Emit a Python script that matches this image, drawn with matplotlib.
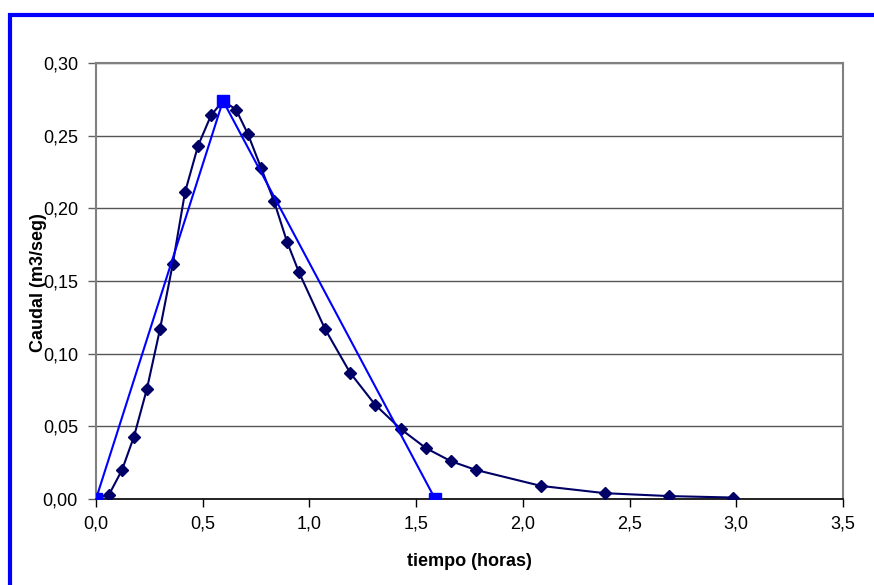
import matplotlib.pyplot as plt
from matplotlib.patches import Rectangle
from matplotlib.ticker import FuncFormatter, MultipleLocator

# hidrograma calculado (tiempo en horas, caudal en m3/seg)
tiempo = [0.0, 0.061, 0.122, 0.178, 0.239, 0.300, 0.360, 0.417, 0.478, 0.539,
          0.595, 0.656, 0.712, 0.773, 0.834, 0.895, 0.951, 1.073, 1.190, 1.307,
          1.429, 1.546, 1.663, 1.780, 2.085, 2.385, 2.685, 2.985]
caudal = [0.000, 0.003, 0.020, 0.043, 0.076, 0.117, 0.162, 0.211, 0.243, 0.264,
          0.274, 0.268, 0.251, 0.228, 0.205, 0.177, 0.156, 0.117, 0.087, 0.065,
          0.048, 0.035, 0.026, 0.020, 0.009, 0.004, 0.002, 0.001]

# hidrograma triangular
tiempo_tri = [0.0, 0.595, 1.589]
caudal_tri = [0.0, 0.274, 0.0]

plt.rcParams["font.family"] = ["Liberation Sans", "DejaVu Sans"]

fig = plt.figure(figsize=(8.74, 5.85), dpi=100)
ax = fig.add_axes([96 / 874, 1 - 499 / 585, 747 / 874, 436 / 585])

ax.plot(tiempo, caudal, color="#000066", lw=1.5, marker="D", ms=6.5, zorder=3)
ax.plot(tiempo_tri, caudal_tri, color="#0000FF", lw=1.5, marker="s", ms=8, zorder=4)

ax.set_xlim(0, 3.5)
ax.set_ylim(0, 0.30)
ax.xaxis.set_major_locator(MultipleLocator(0.5))
ax.yaxis.set_major_locator(MultipleLocator(0.05))
ax.xaxis.set_major_formatter(FuncFormatter(lambda v, _: f"{v:.1f}".replace(".", ",")))
ax.yaxis.set_major_formatter(FuncFormatter(lambda v, _: f"{v:.2f}".replace(".", ",")))
ax.tick_params(direction="out", length=6, width=1, labelsize=13, color="#606060")
ax.tick_params(axis="x", colors="black", pad=6)
ax.tick_params(axis="y", pad=7)
ax.grid(axis="y", color="#555555", lw=1)
ax.set_axisbelow(True)

for side in ["top", "right", "left"]:
    ax.spines[side].set_color("#808080")
    ax.spines[side].set_linewidth(1.5)
ax.spines["bottom"].set_color("black")
ax.spines["bottom"].set_linewidth(1.2)

ax.set_xlabel("tiempo (horas)", fontsize=13, fontweight="bold")
ax.set_ylabel("Caudal (m3/seg)", fontsize=13, fontweight="bold")
ax.xaxis.set_label_coords(0.5, (499 - 562) / 436)
ax.yaxis.set_label_coords((39 - 96) / 747, (499 - 283) / 436)
ax.xaxis.label.set_va("center")
ax.yaxis.label.set_va("center")

# marco azul de la figura
fig.patches.append(Rectangle((10 / 874, -0.05), 1.0, 1 - 15 / 585 + 0.05,
                             transform=fig.transFigure, fill=False,
                             edgecolor="#0000FF", lw=3))

fig.savefig("out.png", dpi=100)
